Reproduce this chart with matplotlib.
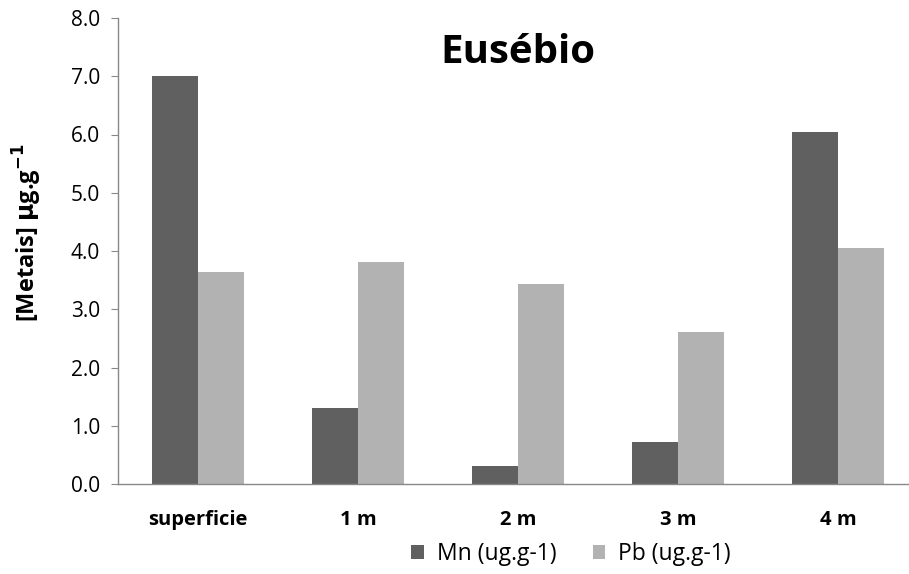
import matplotlib
matplotlib.use("Agg")
import matplotlib.pyplot as plt
import numpy as np

categories = ["superficie", "1 m", "2 m", "3 m", "4 m"]
mn_values = [7.00, 1.30, 0.31, 0.72, 6.04]
pb_values = [3.64, 3.81, 3.43, 2.61, 4.05]
series_names = ["Mn (ug.g-1)", "Pb (ug.g-1)"]
y_ticks = [0.0, 1.0, 2.0, 3.0, 4.0, 5.0, 6.0, 7.0, 8.0]

plt.rcParams['font.family'] = ['Open Sans', 'DejaVu Sans']

fig = plt.figure(figsize=(9.09, 5.74), dpi=100)
ax = fig.add_axes([118/909, (574-484)/574, 800/909, 466/574])

x = np.arange(len(categories))
w = 0.2875
ax.bar(x - w/2, mn_values, w, color="#606060", label=series_names[0])
ax.bar(x + w/2, pb_values, w, color="#b2b2b2", label=series_names[1])

ax.set_xlim(-0.5, len(categories) - 0.5)
ax.set_ylim(0, 8)
ax.set_yticks(y_ticks)
ax.set_yticklabels([f"{v:.1f}" for v in y_ticks], fontsize=15)
ax.set_xticks(x)
ax.set_xticklabels(categories, fontsize=14.5, fontweight="bold")
ax.tick_params(axis="x", length=0, pad=19)
ax.tick_params(axis="y", length=5, color="#888888", direction="out", pad=8)

for s in ["top", "right"]:
    ax.spines[s].set_visible(False)
ax.spines["left"].set_color("#888888")
ax.spines["bottom"].set_color("#888888")
ax.spines["left"].set_linewidth(1.0)
ax.spines["bottom"].set_linewidth(1.0)

ax.text(0.5, 0.925, "Eusébio", transform=ax.transAxes, ha="center", va="center",
        fontsize=29, fontweight="bold")

fig.text(0.03, 0.594, r"[Metais] $\mathbf{\mu}$g.g$^{\mathbf{-1}}$", rotation=90,
         ha="center", va="center", fontsize=17, fontweight="bold")

leg = fig.legend(loc="center", bbox_to_anchor=(571/909, 1 - 554/574), ncol=2,
                 frameon=False, fontsize=16.5, handlelength=0.55, handleheight=0.55,
                 columnspacing=1.6, handletextpad=0.55)

fig.savefig("out.png", dpi=100)
